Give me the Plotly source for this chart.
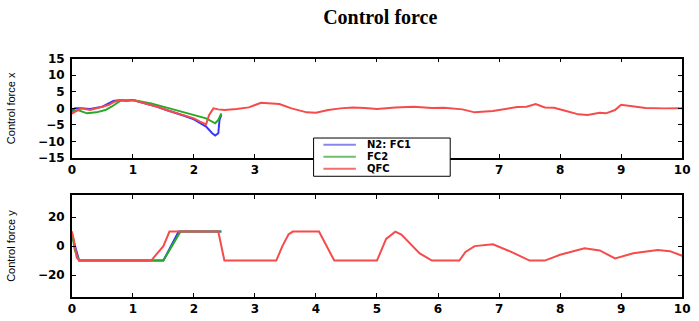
import plotly.graph_objects as go

# ---- data: control force x ----
t_fc1_x = [0, 0.05, 0.15, 0.3, 0.5, 0.68, 0.8, 0.9, 1.0, 1.1, 1.25, 1.4, 1.55, 1.7, 1.85, 2.0, 2.1, 2.2, 2.3, 2.35, 2.4, 2.42, 2.45]
v_fc1_x = [-0.7, 0.0, 0.0, -0.2, 0.5, 2.2, 2.5, 2.3, 2.5, 2.0, 1.3, 0.5, -0.5, -1.3, -2.3, -3.3, -4.3, -5.5, -7.5, -8.2, -7.5, -3.5, -2.0]

t_fc2_x = [0, 0.1, 0.25, 0.4, 0.55, 0.65, 0.8, 1.0, 1.3, 1.6, 1.9, 2.1, 2.2, 2.35, 2.4, 2.45]
v_fc2_x = [-1.0, -0.5, -1.5, -1.2, -0.5, 0.5, 2.3, 2.5, 1.5, 0.0, -1.5, -2.5, -3.0, -4.5, -3.5, -1.5]

t_qfc_x = [0, 0.15, 0.3, 0.45, 0.6, 0.7, 0.8, 0.9, 1.0, 1.1, 1.25, 1.4, 1.55, 1.7, 1.85, 2.0, 2.1, 2.2, 2.25, 2.32,
           2.4, 2.5, 2.7, 2.9, 3.1, 3.3, 3.4, 3.6, 3.85, 4.0, 4.2, 4.4, 4.6, 4.8, 5.0, 5.3, 5.6, 5.9, 6.1, 6.4,
           6.6, 6.9, 7.1, 7.3, 7.45, 7.6, 7.75, 7.9, 8.1, 8.3, 8.45, 8.65, 8.75, 8.9, 9.0, 9.2, 9.4, 9.7, 10.0]
v_qfc_x = [-1.6, 0.0, -0.5, 0.3, 1.0, 2.0, 2.5, 2.3, 2.5, 2.0, 1.3, 0.5, -0.5, -1.3, -2.2, -3.0, -4.0, -4.8, -2.0, 0.0,
           -0.3, -0.5, -0.2, 0.3, 1.7, 1.5, 1.3, 0.0, -1.2, -1.3, -0.5, 0.0, 0.3, 0.1, -0.2, 0.3, 0.5, 0.1, 0.2, -0.3,
           -1.2, -0.8, -0.3, 0.4, 0.5, 1.3, 0.3, 0.2, -0.8, -1.8, -2.0, -1.3, -1.5, -0.5, 1.1, 0.7, 0.1, 0.0, 0.0]

# ---- data: control force y ----
t_fc1_y = [0, 0.05, 0.12, 1.5, 1.75, 2.45]
v_fc1_y = [8, 0, -10, -10, 10, 10]

t_fc2_y = [0, 0.05, 0.12, 1.42, 1.5, 1.78, 2.45]
v_fc2_y = [10, -3, -10, -10, -10, 10, 10]

t_qfc_y = [0, 0.03, 0.08, 0.12, 1.3, 1.4, 1.5, 1.6, 2.4, 2.5, 3.35, 3.45, 3.55, 3.62, 4.05, 4.3, 5.0, 5.15, 5.3,
           5.4, 5.7, 5.9, 6.35, 6.45, 6.6, 6.9, 7.2, 7.5, 7.75, 8.0, 8.4, 8.65, 8.9, 9.2, 9.6, 9.8, 10.0]
v_qfc_y = [10, 5, -8, -10, -10, -5, 0, 10, 10, -10, -10, 0, 8, 10, 10, -10, -10, 5, 10,
           8, -5, -10, -10, -4, 0, 1.3, -4, -10, -10, -6, -1.5, -3, -8.5, -5, -2.7, -3.5, -6.7]

series_names = ["N2: FC1", "FC2", "QFC"]
colors = ["rgb(55,55,250)", "rgb(40,170,40)", "rgb(245,75,75)"]
legend_colors = ["rgb(135,135,235)", "rgb(110,190,110)", "rgb(240,110,110)"]

x_ticks = list(range(0, 11))
x_top_text = ["0", "1", "2", "3", "", "", "", "7", "8", "9", "10"]  # 4-6 hidden under the legend box
x_bot_text = [str(v) for v in x_ticks]
y1_ticks = [15, 10, 5, 0, -5, -10, -15]
y2_ticks = [20, 0, -20]

fig = go.Figure()
for name, col, tx, vx, ty, vy in zip(
        series_names, colors,
        [t_fc1_x, t_fc2_x, t_qfc_x], [v_fc1_x, v_fc2_x, v_qfc_x],
        [t_fc1_y, t_fc2_y, t_qfc_y], [v_fc1_y, v_fc2_y, v_qfc_y]):
    fig.add_trace(go.Scatter(x=tx, y=vx, mode="lines", name=name, showlegend=False,
                             line=dict(color=col, width=2), xaxis="x", yaxis="y"))
    fig.add_trace(go.Scatter(x=ty, y=vy, mode="lines", name=name, showlegend=False,
                             line=dict(color=col, width=2), xaxis="x2", yaxis="y2"))

tickfont = dict(family="DejaVu Sans, sans-serif", size=12, color="black", weight="bold")
ax_common = dict(showline=True, linecolor="black", linewidth=1.5, mirror="ticks",
                 ticks="inside", ticklen=4, tickcolor="black", showgrid=False, zeroline=False,
                 tickfont=tickfont)
ytitle_font = dict(family="Liberation Sans Narrow, Arial Narrow, sans-serif", size=11, color="black")

fig.update_layout(
    width=699, height=321,
    margin=dict(l=0, r=0, t=0, b=0),
    paper_bgcolor="white", plot_bgcolor="white",
    showlegend=False,
    title=dict(text="<b>Control force</b>", x=0.544, xanchor="center", y=1 - 17 / 321, yanchor="middle",
               font=dict(family="Liberation Serif, Times New Roman, serif", size=20, color="black")),
    xaxis=dict(domain=[69 / 699, 690 / 699], range=[0, 10], tickvals=x_ticks, ticktext=x_top_text,
               anchor="y", **ax_common),
    yaxis=dict(domain=[1 - 158 / 321, 1 - 54 / 321], range=[-15, 15], tickvals=y1_ticks, anchor="x",
               ticklabelstandoff=3,
               title=dict(text="Control force x", standoff=20, font=ytitle_font), **ax_common),
    xaxis2=dict(domain=[69 / 699, 690 / 699], range=[0, 10], tickvals=x_ticks, ticktext=x_bot_text,
                anchor="y2", **ax_common),
    yaxis2=dict(domain=[1 - 303 / 321, 1 - 197 / 321], range=[-35, 35], tickvals=y2_ticks, anchor="x2",
                ticklabelstandoff=3,
                title=dict(text="Control force y", standoff=20, font=ytitle_font), **ax_common),
)

# compact legend box (drawn in paper coordinates, like the reference's small MATLAB legend)
W, H = 699.0, 321.0
box = dict(x0=315, x1=454, y0=137, y1=177)
fig.add_shape(type="rect", xref="paper", yref="paper",
              x0=box["x0"] / W, x1=box["x1"] / W, y0=1 - box["y1"] / H, y1=1 - box["y0"] / H,
              line=dict(color="black", width=1), fillcolor="white", layer="above")
entry_y = [144, 156.5, 169]
for name, lc, ey in zip(series_names, legend_colors, entry_y):
    fig.add_shape(type="line", xref="paper", yref="paper",
                  x0=325 / W, x1=358 / W, y0=1 - ey / H, y1=1 - ey / H,
                  line=dict(color=lc, width=2), layer="above")
    fig.add_annotation(text=name, xref="paper", yref="paper", x=368 / W, y=1 - ey / H,
                       xanchor="left", yanchor="middle", showarrow=False, borderpad=0,
                       font=dict(family="DejaVu Sans, sans-serif", size=10, color="black", weight="bold"))

fig.write_html("out.html")
